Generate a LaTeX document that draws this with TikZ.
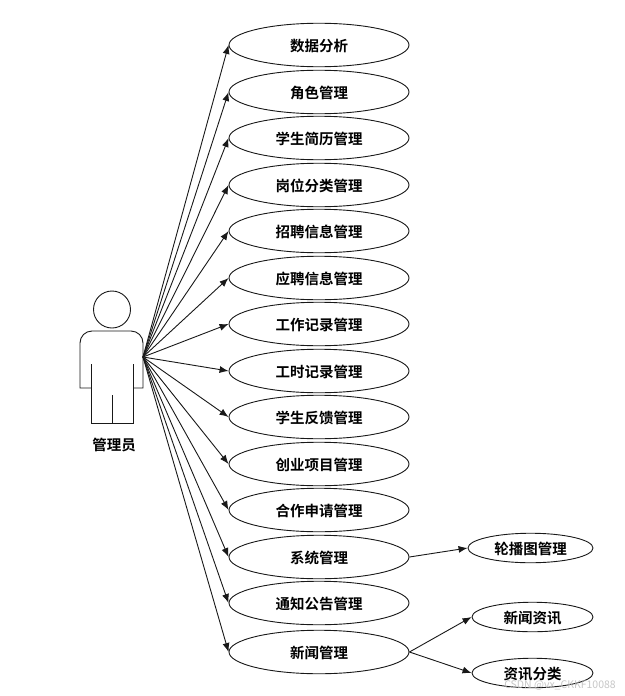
\documentclass[tikz,border=0pt]{standalone}
\usepackage{fontspec}
\setmainfont{Noto Sans CJK SC}[BoldFont={Noto Sans CJK SC Bold}]
\usetikzlibrary{arrows.meta,shapes.geometric}
\definecolor{ink}{RGB}{25,25,25}
\tikzset{
  uc/.style={draw=ink,line width=0.9pt,ellipse,minimum width=180pt,minimum height=43.5pt,inner sep=0pt,text height=12.5pt,text depth=0pt,font=\fontsize{14.5pt}{16pt}\selectfont\bfseries,text=black},
  subuc/.style={uc,minimum height=29.5pt},
  link/.style={draw=ink,line width=0.9pt,-{Latex[length=9pt,width=7pt]}},
  figure/.style={draw=ink,line width=0.9pt}
}
\begin{document}
\begin{tikzpicture}[x=1pt,y=-1pt]
\useasboundingbox (0,0) rectangle (624,696);
\fill[white] (0,0) rectangle (624,696);
\draw[figure] (112,309.5) circle (18.5pt);
\draw[figure] (91,388) -- (80,388) -- (80,343) arc[start angle=180,end angle=90,radius=12pt] -- (131,331) arc[start angle=90,end angle=0,radius=12pt] -- (143,388) -- (133,388);
\draw[figure] (91,364) -- (91,423) -- (133,423) -- (133,364);
\draw[figure] (112,395) -- (112,423);
\coordinate (actor) at (143,357);
\node[font=\fontsize{14.5pt}{16pt}\selectfont\bfseries] (label) at (114,445) {管理员};
\node[uc] (a1) at (319,45) {数据分析};
\node[uc] (a2) at (319,92) {角色管理};
\node[uc] (a3) at (319,138) {学生简历管理};
\node[uc] (a4) at (319,185) {岗位分类管理};
\node[uc] (a5) at (319,231) {招聘信息管理};
\node[uc] (a6) at (319,278) {应聘信息管理};
\node[uc] (a7) at (319,324) {工作记录管理};
\node[uc] (a8) at (319,371) {工时记录管理};
\node[uc] (a9) at (319,417) {学生反馈管理};
\node[uc] (a10) at (319,464) {创业项目管理};
\node[uc] (a11) at (319,510) {合作申请管理};
\node[uc] (a12) at (319,557) {系统管理};
\node[uc] (a13) at (319,603) {通知公告管理};
\node[uc] (a14) at (319,652) {新闻管理};
\node[subuc,minimum width=125pt] (b1) at (530.5,548) {轮播图管理};
\node[subuc,minimum width=121pt] (b2) at (532.5,617) {新闻资讯};
\node[subuc,minimum width=121pt] (b3) at (532.5,673) {资讯分类};
\foreach \n in {1,...,14} \draw[link] (actor) -- (a\n.west);
\draw[link] (a12.east) -- (b1.west);
\draw[link] (a14.east) -- (b2.west);
\draw[link] (a14.east) -- (b3.west);
\node[font=\fontsize{10.5pt}{12pt}\selectfont,text=gray!55,inner sep=0pt,anchor=east,text opacity=0.8] (mark) at (616,685) {CSDN @vx\_CKKF10088};
\end{tikzpicture}
\end{document}
